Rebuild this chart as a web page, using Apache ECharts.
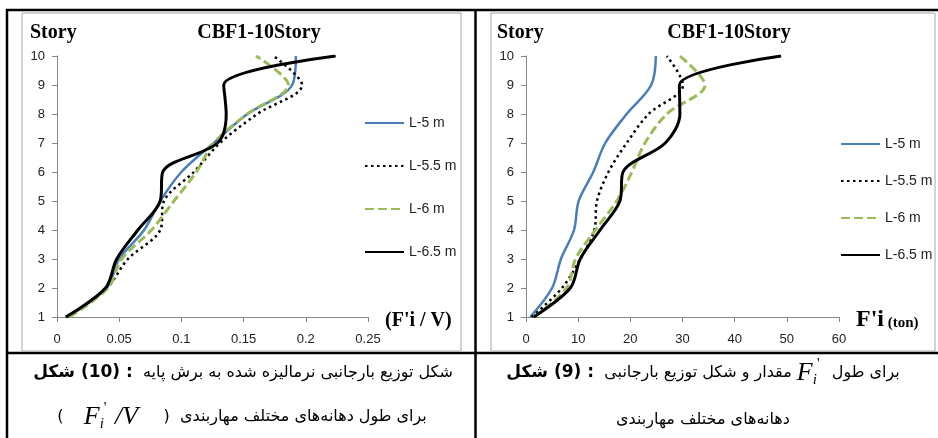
<!DOCTYPE html>
<html>
<head>
<meta charset="utf-8">
<script src="https://cdn.jsdelivr.net/npm/echarts@6/dist/echarts.min.js"></script>
<style>
html, body { margin: 0; padding: 0; background: #fff; }
#chart { width: 938px; height: 438px; }
</style>
</head>
<body>
<div id="chart"></div>
<script>
// طبقات
var stories = [1, 2, 3, 4, 5, 6, 7, 8, 9, 10];
var seriesNames = ['L-5 m', 'L-5.5 m', 'L-6 m', 'L-6.5 m'];

// شکل 10 : F'i / V
var normL5  = [0.008, 0.040, 0.050, 0.070, 0.083, 0.100, 0.126, 0.153, 0.189, 0.192];
var normL55 = [0.008, 0.040, 0.057, 0.083, 0.086, 0.110, 0.131, 0.161, 0.197, 0.174];
var normL6  = [0.010, 0.041, 0.052, 0.076, 0.094, 0.112, 0.126, 0.153, 0.186, 0.160];
var normL65 = [0.007, 0.039, 0.048, 0.065, 0.083, 0.085, 0.129, 0.136, 0.134, 0.224];

// شکل 9 : F'i (ton)
var forceL5  = [0.8, 5.0, 6.7, 9.2, 10.1, 12.9, 15.2, 19.3, 24.0, 24.9];
var forceL55 = [1.1, 6.9, 10.4, 13.1, 13.6, 15.8, 19.3, 23.5, 30.1, 27.0];
var forceL6  = [1.5, 7.8, 9.5, 13.3, 17.4, 20.3, 22.8, 27.0, 34.3, 29.5];
var forceL65 = [1.5, 8.5, 10.4, 14.2, 18.0, 18.6, 26.7, 29.5, 29.4, 48.9];

var chart = echarts.init(document.getElementById('chart'));

var labelFont = "'Liberation Sans', Arial, sans-serif";
var serifFont = "'Liberation Serif', 'Times New Roman', serif";
var faFont = "'DejaVu Sans', sans-serif";

var styles = [
    { color: '#4a7ebb', width: 2.5, type: 'solid' },
    { color: '#000000', width: 2.5, type: [2.5, 3.5] },
    { color: '#9bbb59', width: 3, type: [9, 4] },
    { color: '#000000', width: 3, type: 'solid' }
];

function pairs(xs) {
    return stories.map(function (s, i) { return [xs[i], s]; });
}

function makeSeries(idx, lists) {
    return lists.map(function (xs, k) {
        return {
            name: seriesNames[k],
            type: 'line',
            xAxisIndex: idx,
            yAxisIndex: idx,
            data: pairs(xs),
            smooth: 0.33,
            symbol: 'none',
            showSymbol: false,
            lineStyle: styles[k],
            itemStyle: { color: styles[k].color },
            z: k === 3 ? 3 : 2
        };
    });
}

function xAxisOf(idx, max, step) {
    return {
        gridIndex: idx, type: 'value', min: 0, max: max, interval: step,
        axisLine: { show: true, onZero: false, lineStyle: { color: '#868686', width: 1 } },
        axisTick: { show: true, length: 5, lineStyle: { color: '#868686' } },
        axisLabel: { margin: 16, color: '#222', fontSize: 13, fontFamily: labelFont },
        splitLine: { show: false }
    };
}

function yAxisOf(idx) {
    return {
        gridIndex: idx, type: 'value', min: 1, max: 10, interval: 1,
        axisLine: { show: true, onZero: false, lineStyle: { color: '#868686', width: 1 } },
        axisTick: { show: true, length: 5, lineStyle: { color: '#868686' } },
        axisLabel: { margin: 12, color: '#222', fontSize: 13, fontFamily: labelFont },
        splitLine: { show: false }
    };
}

function legendOf(left, top, gap) {
    return {
        data: seriesNames, orient: 'vertical', left: left, top: top,
        itemWidth: 39, itemHeight: 14, itemGap: gap,
        itemStyle: { opacity: 0, color: 'transparent', borderWidth: 0 },
        textStyle: { color: '#222', fontSize: 14, fontFamily: labelFont, lineHeight: 14 },
        selectedMode: false
    };
}

function txt(x, y, text, font, align) {
    return {
        type: 'text', x: x, y: y, silent: true,
        style: { text: text, font: font, fill: '#000', align: align || 'left', textAlign: align || 'left', verticalAlign: 'middle', textVerticalAlign: 'middle' }
    };
}

function hline(x1, x2, y) {
    return { type: 'line', silent: true, shape: { x1: x1, y1: y, x2: x2, y2: y }, style: { stroke: '#000', lineWidth: 2.5 } };
}
function vline(x, y1, y2) {
    return { type: 'line', silent: true, shape: { x1: x, y1: y1, x2: x, y2: y2 }, style: { stroke: '#000', lineWidth: 2.5 } };
}

// تکه فارسی راست به چپ
function fa(s) {
    return '\u2067' + s + '\u2069';
}
// برچسب شکل، چپ به راست مثل تصویر
function figLabel(s) {
    return '\u200E' + s.split(' ').join('\u200E \u200E') + '\u200E';
}

var capRich = {
    r: { fontFamily: faFont, fontSize: 16, color: '#000' },
    b: { fontFamily: faFont, fontSize: 17, fontWeight: 'bold', color: '#000' },
    F: { fontFamily: serifFont, fontStyle: 'italic', fontSize: 26, color: '#000' },
    sub: { fontFamily: serifFont, fontStyle: 'italic', fontSize: 15, color: '#000', padding: [14, 0, 0, 0] },
    sup: { fontFamily: serifFont, fontSize: 15, color: '#000', padding: [0, 2, 18, 0] }
};

function caption(x, y, text) {
    return {
        type: 'text', x: x, y: y, silent: true,
        style: { text: text, rich: capRich, align: 'center', textAlign: 'center', verticalAlign: 'middle', textVerticalAlign: 'middle', fontFamily: faFont, fontSize: 16 }
    };
}

var mathF = '{F|F}{sub|i}{sup|\'}';

var option = {
    animation: false,
    backgroundColor: '#ffffff',
    grid: [
        { left: 57, right: 570, top: 56, bottom: 121 },
        { left: 526, right: 99, top: 56, bottom: 121 }
    ],
    xAxis: [xAxisOf(0, 0.25, 0.05), xAxisOf(1, 60, 10)],
    yAxis: [yAxisOf(0), yAxisOf(1)],
    legend: [legendOf(359, 111, 29), legendOf(835, 132, 23)],
    series: makeSeries(0, [normL5, normL55, normL6, normL65])
        .concat(makeSeries(1, [forceL5, forceL55, forceL6, forceL65])),
    graphic: [
        // جدول
        hline(6, 938, 10),
        hline(6, 938, 353),
        vline(7, 9, 438),
        vline(475.5, 9, 438),
        // قاب نمودارها
        { type: 'rect', silent: true, shape: { x: 22, y: 13, width: 439, height: 338 }, style: { fill: null, stroke: '#a6a6a6', lineWidth: 1 } },
        { type: 'rect', silent: true, shape: { x: 491, y: 13, width: 444, height: 338 }, style: { fill: null, stroke: '#a6a6a6', lineWidth: 1 } },
        // عنوان ها
        txt(30, 33, 'Story', 'bold 20px ' + serifFont),
        txt(259, 33, 'CBF1-10Story', 'bold 20px ' + serifFont, 'center'),
        txt(497, 33, 'Story', 'bold 20px ' + serifFont),
        txt(729, 33, 'CBF1-10Story', 'bold 20px ' + serifFont, 'center'),
        txt(385, 321, "(F'i / V)", 'bold 20px ' + serifFont),
        {
            type: 'text', x: 856, y: 320, silent: true,
            style: {
                text: "{a|F'i}{b| (ton)}", align: 'left', textAlign: 'left', verticalAlign: 'middle', textVerticalAlign: 'middle',
                rich: {
                    a: { fontFamily: serifFont, fontWeight: 'bold', fontSize: 24, color: '#000' },
                    b: { fontFamily: serifFont, fontWeight: 'bold', fontSize: 15, color: '#000', padding: [6, 0, 0, 0] }
                }
            }
        },
        // زیرنویس ها
        caption(243, 373, '{b|' + figLabel('شکل (10) :') + '}{r|  ' + fa('شکل توزیع بارجانبی نرمالیزه شده به برش پایه') + '}'),
        caption(242, 417, '{r|(    }' + mathF + '{F| /V}{r|     )  ' + fa('برای طول دهانه\u200cهای مختلف مهاربندی') + '}'),
        caption(703, 373, '{b|' + figLabel('شکل (9) :') + '}{r|  ' + fa('مقدار و شکل توزیع بارجانبی') + ' }' + mathF + '{r|  ' + fa('برای طول') + '}'),
        caption(703, 420, '{r|' + fa('دهانه\u200cهای مختلف مهاربندی') + '}')
    ]
};

chart.setOption(option);
</script>
</body>
</html>
